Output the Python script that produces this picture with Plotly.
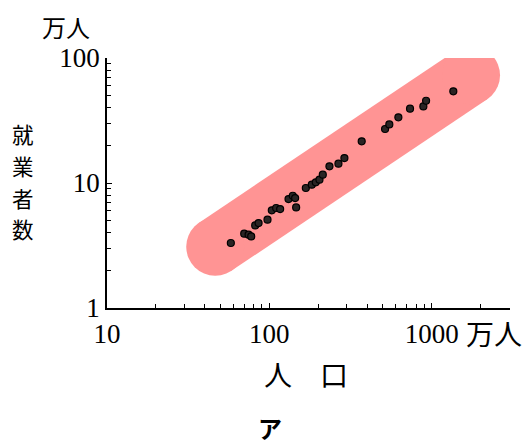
import plotly.graph_objects as go

# Data (人口 [万人], 就業者数 [万人])
population = [57.9, 70.0, 74.5, 77.3, 81.8, 85.8, 97.4, 103.5, 110.1, 116.5,
              131.2, 139.4, 144.1, 146.2, 167.7, 182.5, 193.1, 203.5, 213.3, 234.4,
              266.3, 289.8, 370.4, 516, 548, 623, 735, 888, 923, 1358]
workers = [3.31, 3.93, 3.86, 3.74, 4.58, 4.78, 5.09, 6.04, 6.31, 6.19,
           7.44, 7.91, 7.58, 6.38, 9.12, 9.69, 10.12, 10.63, 11.65, 13.59,
           14.27, 15.84, 21.54, 27.03, 29.44, 33.5, 39.3, 41.0, 45.5, 54.1]

# Highlight band (start / end of the trend band)
band_x = [46.4, 1746]
band_y = [3.09, 72.8]

x_tickvals = [10, 100, 1000]
x_ticktext = ["10", "100", "1000"]
y_tickvals = [1, 10, 100]
y_ticktext = ["1", "10", "100"]

BAND_COLOR = "#FF9494"
SERIF = "Liberation Serif"
CJK = "Noto Sans CJK JP"

# the page body has an 8px margin, so the figure is drawn 8px in from the corner
OFF = 8
W, H = 531 - OFF, 446 - OFF
ML, MR, MT, MB = 107 - OFF, 21, 58 - OFF, 138

fig = go.Figure()

fig.add_trace(go.Scatter(
    x=band_x, y=band_y, mode="lines+markers",
    line=dict(color=BAND_COLOR, width=58),
    marker=dict(color=BAND_COLOR, size=58, line=dict(width=0)),
    hoverinfo="skip", showlegend=False,
))

fig.add_trace(go.Scatter(
    x=population, y=workers, mode="markers",
    marker=dict(color="#2a2424", size=7, line=dict(color="black", width=1.2)),
    showlegend=False,
))

fig.update_layout(
    width=W, height=H,
    margin=dict(l=ML, r=MR, t=MT, b=MB, autoexpand=False),
    paper_bgcolor="white", plot_bgcolor="white",
    font=dict(family=SERIF, size=26, color="black"),
)

fig.update_xaxes(
    type="log", range=[1, 3.482],
    tickmode="array", tickvals=x_tickvals, ticktext=x_ticktext,
    ticks="inside", ticklen=5, tickwidth=1.3, tickcolor="black",
    showline=True, linecolor="black", linewidth=1.6,
    showgrid=False, zeroline=False,
    ticklabelstandoff=1,
    tickfont=dict(family=SERIF, size=27, color="black"),
    minor=dict(ticks="inside", ticklen=4, tickwidth=1.2, tickcolor="black",
               dtick="D1", showgrid=False),
)

fig.update_yaxes(
    type="log", range=[0, 2],
    tickmode="array", tickvals=y_tickvals, ticktext=y_ticktext,
    ticks="inside", ticklen=5, tickwidth=1.3, tickcolor="black",
    showline=True, linecolor="black", linewidth=1.6,
    showgrid=False, zeroline=False,
    ticklabelstandoff=0,
    tickfont=dict(family=SERIF, size=27, color="black"),
    minor=dict(ticks="inside", ticklen=4, tickwidth=1.2, tickcolor="black",
               dtick="D1", showgrid=False),
)

def px2paper_x(px):
    return (px - OFF - ML) / (W - ML - MR)

def px2paper_y(py):
    return (H - MB - (py - OFF)) / (H - MT - MB)

annos = []
# unit above y axis
annos.append(dict(text="万人", x=px2paper_x(66), y=px2paper_y(26),
                  xref="paper", yref="paper", showarrow=False,
                  font=dict(family=CJK, size=24), xanchor="center", yanchor="middle"))
# unit right of x axis
annos.append(dict(text="万人", x=px2paper_x(494), y=px2paper_y(333),
                  xref="paper", yref="paper", showarrow=False,
                  font=dict(family=CJK, size=28), xanchor="center", yanchor="middle"))
# vertical y title, one character per line
for i, ch in enumerate("就業者数"):
    annos.append(dict(text=ch, x=px2paper_x(23), y=px2paper_y(133 + 32 * i),
                      xref="paper", yref="paper", showarrow=False,
                      font=dict(family=CJK, size=21.5), xanchor="center", yanchor="middle"))
# x title
annos.append(dict(text="人　口", x=px2paper_x(306), y=px2paper_y(374),
                  xref="paper", yref="paper", showarrow=False,
                  font=dict(family=CJK, size=28), xanchor="center", yanchor="middle"))
# caption
annos.append(dict(text="<b>ア</b>", x=px2paper_x(270), y=px2paper_y(427),
                  xref="paper", yref="paper", showarrow=False,
                  font=dict(family=CJK, size=24), xanchor="center", yanchor="middle"))

fig.update_layout(annotations=annos)

fig.write_html("out.html")
